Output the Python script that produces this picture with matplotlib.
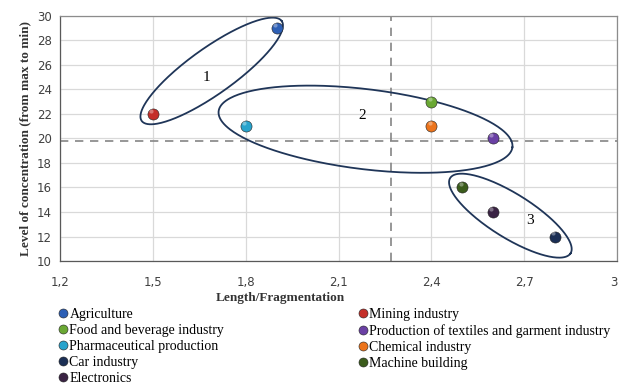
import matplotlib
matplotlib.use("Agg")
import matplotlib.pyplot as plt
from matplotlib.lines import Line2D
import matplotlib.transforms as mtransforms
import numpy as np

# industries: length/fragmentation (x) vs level of concentration (y)
industries = ["Agriculture", "Mining industry", "Food and beverage industry",
              "Production of textiles and garment industry", "Pharmaceutical production",
              "Chemical industry", "Car industry", "Machine building", "Electronics"]
length = [1.9, 1.5, 2.4, 2.6, 1.8, 2.4, 2.8, 2.5, 2.6]
concentration = [29, 22, 23, 20, 21, 21, 12, 16, 14]
colors = ["#2d5fb5", "#c42f2a", "#6aa834", "#6a40a4", "#28a3cc",
          "#ec741c", "#1b2f55", "#3b5c1c", "#3a2344"]
x_ticks = [1.2, 1.5, 1.8, 2.1, 2.4, 2.7, 3.0]
x_ticklabels = ["1,2", "1,5", "1,8", "2,1", "2,4", "2,7", "3"]

# average lines
x_mean = 2.27
y_mean = 19.8

# cluster ellipses: centre (data), semi-axes (px), angle (deg), label position (data)
clusters = [
    ("1", (1.69, 25.5), 86, 23, 35.5, (1.672, 25.0)),
    ("2", (2.187, 20.75), 148, 40, -7, (2.177, 21.9)),
    ("3", (2.655, 13.7), 71, 22, -32, (2.72, 13.3)),
]

plt.rcParams["font.family"] = ["DejaVu Sans"]
fig = plt.figure(figsize=(6.19, 3.85), dpi=100)
ax = fig.add_axes([0.097, 0.322, 0.9, 0.637])

ax.set_xlim(1.2, 3.0)
ax.set_ylim(10, 30)
ax.set_xticks(x_ticks)
ax.set_yticks(np.arange(10, 31, 2))
ax.set_xticklabels(x_ticklabels)
ax.grid(True, color="#d9d9d9", linewidth=0.9)
ax.set_axisbelow(True)
for s in ax.spines.values():
    s.set_color("#8c8c8c")
    s.set_linewidth(0.9)
ax.spines["left"].set_color("#595959")
ax.spines["bottom"].set_color("#595959")
ax.tick_params(length=0, labelsize=8.5, colors="#404040", pad=6)
ax.tick_params(axis="x", pad=11)
# nudge the last x label so it stays inside the figure
last = ax.get_xticklabels()[-1]
last.set_transform(last.get_transform() +
                   mtransforms.ScaledTranslation(-3 / 100, 0, fig.dpi_scale_trans))

ax.axvline(x_mean, color="#858585", linestyle=(0, (5, 4)), linewidth=1.2, zorder=1)
ax.axhline(y_mean, color="#858585", linestyle=(0, (5, 4)), linewidth=1.2, zorder=1)

# pixel scale, so the ellipses are rotated on screen rather than in data units
fig.canvas.draw()
bbox = ax.get_window_extent()
px_x = bbox.width / (3.0 - 1.2)
px_y = bbox.height / (30 - 10)
t = np.linspace(0, 2 * np.pi, 300)
for name, (cx, cy), a, b, ang, (lx, ly) in clusters:
    th = np.radians(ang)
    ex = a * np.cos(t) * np.cos(th) - b * np.sin(t) * np.sin(th)
    ey = a * np.cos(t) * np.sin(th) + b * np.sin(t) * np.cos(th)
    ax.plot(cx + ex / px_x, cy + ey / px_y, color="#1f3558", linewidth=1.3, zorder=2)
    ax.text(lx, ly, name, fontsize=11, family="Liberation Serif", ha="center", va="center")

for xi, yi, c in zip(length, concentration, colors):
    ax.plot(xi, yi, "o", ms=8, color=c, mec="#222222", mew=0.4, zorder=4)
    ax.plot(xi - 0.006, yi + 0.25, "o", ms=3, color="white", alpha=0.35, mew=0, zorder=5)

ax.set_ylabel("Level of concentration (from max to min)", family="Liberation Serif",
              fontsize=9.5, fontweight="bold", color="#333333")
fig.text(280 / 619, 1 - 298 / 385, "Length/Fragmentation", family="Liberation Serif",
         fontsize=9.5, fontweight="bold", color="#333333", ha="center", va="center")

order = [0, 2, 4, 6, 8, 1, 3, 5, 7]
handles = [Line2D([], [], marker="o", ls="", ms=6.5, color=colors[i], mec="#222222", mew=0.4)
           for i in order]
labels = [industries[i] for i in order]
fig.legend(handles, labels, loc="upper left", bbox_to_anchor=(59 / 619, 1 - 308 / 385),
           ncol=2, frameon=False, prop={"family": "Liberation Serif", "size": 10},
           handlelength=0.6, handletextpad=0.15, columnspacing=9.7, labelspacing=0.22,
           borderpad=0, borderaxespad=0)

fig.savefig("out.png", dpi=100)
